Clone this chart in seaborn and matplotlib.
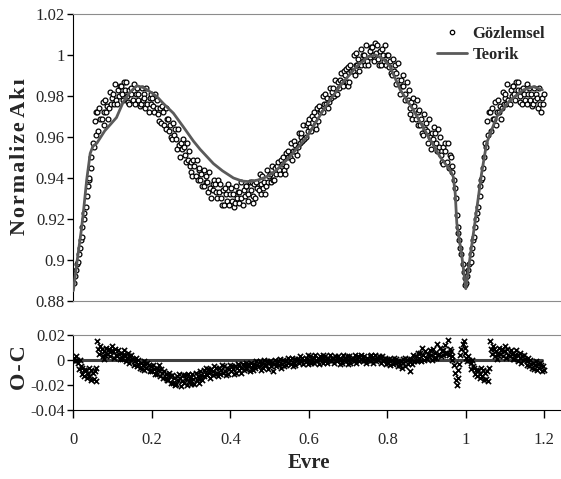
import numpy as np
import pandas as pd
import matplotlib
matplotlib.use('Agg')
import matplotlib.pyplot as plt
import seaborn as sns
from matplotlib.ticker import FuncFormatter
from matplotlib.lines import Line2D

# theoretical light curve (phase, normalized flux)
model_phase = [0.000, 0.010, 0.020, 0.026, 0.034, 0.043, 0.050, 0.060, 0.070, 0.080,
               0.094, 0.110, 0.127, 0.145, 0.162, 0.180, 0.200, 0.213, 0.229, 0.255,
               0.280, 0.306, 0.323, 0.357, 0.380, 0.408, 0.430, 0.450, 0.470, 0.493,
               0.518, 0.552, 0.595, 0.637, 0.680, 0.720, 0.750, 0.770, 0.790, 0.807,
               0.833, 0.866, 0.900, 0.934, 0.960, 0.968, 0.973, 0.977, 0.990, 1.000,
               1.011, 1.023, 1.040, 1.053, 1.079, 1.113, 1.147, 1.172, 1.195]
model_flux = [0.885, 0.900, 0.914, 0.924, 0.939, 0.952, 0.9555, 0.957, 0.960, 0.963,
              0.966, 0.9695, 0.977, 0.982, 0.985, 0.984, 0.9815, 0.9797, 0.9764, 0.9716,
              0.965, 0.958, 0.954, 0.947, 0.9435, 0.940, 0.9385, 0.9382, 0.939, 0.9406,
              0.9439, 0.9504, 0.960, 0.9732, 0.985, 0.994, 0.999, 1.000, 0.998, 0.9943,
              0.983, 0.9732, 0.9618, 0.9504, 0.9439, 0.9406, 0.9325, 0.918, 0.9016, 0.886,
              0.9016, 0.918, 0.942, 0.957, 0.970, 0.978, 0.983, 0.9845, 0.983]

# observed phases (0-1)
obs_phase = [
    0.001, 0.004, 0.006, 0.009, 0.012, 0.014, 0.017, 0.019,
    0.021, 0.023, 0.026, 0.028, 0.032, 0.035, 0.037, 0.039,
    0.041, 0.044, 0.046, 0.049, 0.052, 0.054, 0.057, 0.059,
    0.061, 0.063, 0.066, 0.068, 0.072, 0.075, 0.077, 0.079,
    0.081, 0.084, 0.086, 0.089, 0.092, 0.094, 0.097, 0.099,
    0.101, 0.103, 0.106, 0.108, 0.112, 0.115, 0.117, 0.119,
    0.121, 0.124, 0.126, 0.129, 0.132, 0.134, 0.137, 0.139,
    0.141, 0.143, 0.146, 0.148, 0.152, 0.155, 0.157, 0.159,
    0.161, 0.164, 0.166, 0.169, 0.172, 0.174, 0.177, 0.179,
    0.181, 0.183, 0.186, 0.188, 0.192, 0.195, 0.197, 0.199,
    0.201, 0.204, 0.206, 0.209, 0.212, 0.214, 0.217, 0.219,
    0.221, 0.223, 0.226, 0.228, 0.232, 0.235, 0.237, 0.239,
    0.241, 0.244, 0.246, 0.249, 0.252, 0.254, 0.257, 0.259,
    0.261, 0.263, 0.266, 0.268, 0.272, 0.275, 0.277, 0.279,
    0.281, 0.284, 0.286, 0.289, 0.292, 0.294, 0.297, 0.299,
    0.301, 0.303, 0.306, 0.308, 0.312, 0.315, 0.317, 0.319,
    0.321, 0.324, 0.326, 0.329, 0.332, 0.334, 0.337, 0.339,
    0.341, 0.343, 0.346, 0.348, 0.352, 0.355, 0.357, 0.359,
    0.361, 0.364, 0.366, 0.369, 0.372, 0.374, 0.377, 0.379,
    0.381, 0.383, 0.386, 0.388, 0.392, 0.395, 0.397, 0.399,
    0.401, 0.404, 0.406, 0.409, 0.412, 0.414, 0.417, 0.419,
    0.421, 0.423, 0.426, 0.428, 0.432, 0.435, 0.437, 0.439,
    0.441, 0.444, 0.446, 0.449, 0.452, 0.454, 0.457, 0.459,
    0.461, 0.463, 0.466, 0.468, 0.472, 0.475, 0.477, 0.479,
    0.481, 0.484, 0.486, 0.489, 0.492, 0.494, 0.497, 0.499,
    0.501, 0.503, 0.506, 0.508, 0.512, 0.515, 0.517, 0.519,
    0.521, 0.524, 0.526, 0.529, 0.532, 0.534, 0.537, 0.539,
    0.541, 0.543, 0.546, 0.548, 0.552, 0.555, 0.557, 0.559,
    0.561, 0.564, 0.566, 0.569, 0.572, 0.574, 0.577, 0.579,
    0.581, 0.583, 0.586, 0.588, 0.592, 0.595, 0.597, 0.599,
    0.601, 0.604, 0.606, 0.609, 0.612, 0.614, 0.617, 0.619,
    0.621, 0.623, 0.626, 0.628, 0.632, 0.635, 0.637, 0.639,
    0.641, 0.644, 0.646, 0.649, 0.652, 0.654, 0.657, 0.659,
    0.661, 0.663, 0.666, 0.668, 0.672, 0.675, 0.677, 0.679,
    0.681, 0.684, 0.686, 0.689, 0.692, 0.694, 0.697, 0.699,
    0.701, 0.703, 0.706, 0.708, 0.712, 0.715, 0.717, 0.719,
    0.721, 0.724, 0.726, 0.729, 0.732, 0.734, 0.737, 0.739,
    0.741, 0.743, 0.746, 0.748, 0.752, 0.755, 0.757, 0.759,
    0.761, 0.764, 0.766, 0.769, 0.772, 0.774, 0.777, 0.779,
    0.781, 0.783, 0.786, 0.788, 0.792, 0.795, 0.797, 0.799,
    0.801, 0.804, 0.806, 0.809, 0.812, 0.814, 0.817, 0.819,
    0.821, 0.823, 0.826, 0.828, 0.832, 0.835, 0.837, 0.839,
    0.841, 0.844, 0.846, 0.849, 0.852, 0.854, 0.857, 0.859,
    0.861, 0.863, 0.866, 0.868, 0.872, 0.875, 0.877, 0.879,
    0.881, 0.884, 0.886, 0.889, 0.892, 0.894, 0.897, 0.899,
    0.901, 0.903, 0.906, 0.908, 0.912, 0.915, 0.917, 0.919,
    0.921, 0.924, 0.926, 0.929, 0.932, 0.934, 0.937, 0.939,
    0.941, 0.943, 0.946, 0.948, 0.952, 0.955, 0.957, 0.959,
    0.961, 0.964, 0.966, 0.969, 0.972, 0.974, 0.977, 0.979,
    0.981, 0.983, 0.986, 0.988, 0.992, 0.995, 0.997, 0.999]

obs_flux = [
    0.889, 0.892, 0.895, 0.898, 0.899, 0.903, 0.906, 0.910,
    0.911, 0.916, 0.920, 0.923, 0.926, 0.931, 0.936, 0.939,
    0.940, 0.945, 0.950, 0.957, 0.955, 0.968, 0.961, 0.972,
    0.972, 0.963, 0.974, 0.969, 0.969, 0.977, 0.966, 0.972,
    0.978, 0.972, 0.975, 0.969, 0.974, 0.982, 0.976, 0.979,
    0.981, 0.976, 0.986, 0.978, 0.976, 0.983, 0.980, 0.985,
    0.985, 0.981, 0.978, 0.987, 0.983, 0.987, 0.980, 0.977,
    0.983, 0.976, 0.984, 0.981, 0.978, 0.986, 0.976, 0.981,
    0.984, 0.978, 0.981, 0.975, 0.976, 0.984, 0.978, 0.981,
    0.979, 0.974, 0.984, 0.976, 0.972, 0.979, 0.976, 0.981,
    0.979, 0.975, 0.972, 0.981, 0.974, 0.978, 0.971, 0.968,
    0.974, 0.967, 0.975, 0.972, 0.966, 0.974, 0.964, 0.969,
    0.969, 0.963, 0.966, 0.960, 0.959, 0.967, 0.961, 0.964,
    0.959, 0.954, 0.964, 0.956, 0.950, 0.957, 0.954, 0.959,
    0.955, 0.951, 0.948, 0.957, 0.949, 0.953, 0.946, 0.943,
    0.948, 0.941, 0.949, 0.946, 0.941, 0.949, 0.939, 0.944,
    0.945, 0.939, 0.942, 0.936, 0.936, 0.944, 0.938, 0.941,
    0.938, 0.933, 0.943, 0.935, 0.930, 0.937, 0.934, 0.939,
    0.937, 0.933, 0.930, 0.939, 0.933, 0.937, 0.930, 0.927,
    0.934, 0.927, 0.935, 0.932, 0.929, 0.937, 0.927, 0.932,
    0.935, 0.929, 0.932, 0.926, 0.928, 0.936, 0.930, 0.933,
    0.933, 0.928, 0.938, 0.930, 0.927, 0.934, 0.931, 0.936,
    0.936, 0.932, 0.929, 0.938, 0.934, 0.938, 0.931, 0.928,
    0.937, 0.930, 0.938, 0.935, 0.934, 0.942, 0.932, 0.937,
    0.941, 0.935, 0.938, 0.932, 0.936, 0.944, 0.938, 0.941,
    0.942, 0.938, 0.946, 0.939, 0.939, 0.945, 0.942, 0.946,
    0.948, 0.944, 0.942, 0.949, 0.947, 0.950, 0.944, 0.942,
    0.952, 0.946, 0.953, 0.950, 0.950, 0.957, 0.949, 0.953,
    0.958, 0.953, 0.956, 0.951, 0.955, 0.962, 0.957, 0.960,
    0.962, 0.958, 0.966, 0.959, 0.960, 0.966, 0.963, 0.967,
    0.969, 0.965, 0.963, 0.970, 0.969, 0.972, 0.966, 0.964,
    0.974, 0.968, 0.975, 0.972, 0.973, 0.980, 0.972, 0.976,
    0.981, 0.976, 0.979, 0.974, 0.977, 0.984, 0.979, 0.982,
    0.984, 0.980, 0.988, 0.981, 0.981, 0.987, 0.984, 0.988,
    0.991, 0.987, 0.985, 0.992, 0.990, 0.993, 0.987, 0.985,
    0.994, 0.987, 0.995, 0.992, 0.992, 1.000, 0.990, 0.995,
    1.001, 0.995, 0.998, 0.992, 0.995, 1.003, 0.997, 1.000,
    1.000, 0.995, 1.005, 0.997, 0.995, 1.002, 0.999, 1.004,
    1.004, 1.000, 0.997, 1.006, 1.001, 1.005, 0.998, 0.995,
    1.002, 0.995, 1.003, 1.000, 0.997, 1.005, 0.995, 1.000,
    1.000, 0.994, 0.997, 0.991, 0.990, 0.998, 0.992, 0.995,
    0.991, 0.986, 0.996, 0.988, 0.981, 0.988, 0.985, 0.990,
    0.985, 0.981, 0.978, 0.987, 0.978, 0.983, 0.974, 0.971,
    0.977, 0.969, 0.979, 0.975, 0.969, 0.978, 0.966, 0.972,
    0.973, 0.966, 0.969, 0.962, 0.961, 0.971, 0.964, 0.967,
    0.963, 0.957, 0.969, 0.960, 0.954, 0.962, 0.959, 0.965,
    0.962, 0.957, 0.953, 0.964, 0.955, 0.960, 0.951, 0.948,
    0.955, 0.947, 0.957, 0.953, 0.948, 0.957, 0.945, 0.951,
    0.950, 0.946, 0.943, 0.939, 0.935, 0.930, 0.922, 0.916,
    0.913, 0.910, 0.906, 0.903, 0.898, 0.894, 0.891, 0.888]

# O-C residuals at the same phases
obs_oc = [
    0.002, -0.001, 0.003, 0.000, -0.002, -0.007, 0.000, -0.005,
    -0.006, -0.011, -0.008, -0.013, -0.008, -0.014, -0.011, -0.006,
    -0.013, -0.008, -0.016, -0.010, -0.015, -0.009, -0.017, -0.006,
    0.015, 0.009, 0.005, 0.011, 0.009, 0.003, 0.007, 0.001,
    0.004, 0.010, 0.005, 0.008, 0.009, 0.003, 0.007, 0.011,
    0.007, 0.002, 0.009, 0.004, 0.003, 0.008, 0.005, 0.001,
    0.006, 0.001, 0.004, 0.008, 0.004, -0.001, 0.002, 0.006,
    -0.002, 0.003, 0.000, 0.004, 0.001, -0.004, -0.001, 0.002,
    -0.005, 0.000, -0.003, -0.006, -0.002, -0.007, -0.004, -0.001,
    -0.008, -0.003, -0.006, -0.002, -0.004, -0.009, -0.005, -0.008,
    -0.009, -0.004, -0.007, -0.011, -0.006, -0.011, -0.008, -0.004,
    -0.013, -0.007, -0.010, -0.014, -0.009, -0.014, -0.011, -0.016,
    -0.016, -0.010, -0.013, -0.018, -0.012, -0.018, -0.014, -0.020,
    -0.019, -0.013, -0.016, -0.011, -0.014, -0.021, -0.017, -0.012,
    -0.018, -0.012, -0.015, -0.020, -0.011, -0.017, -0.014, -0.019,
    -0.017, -0.011, -0.015, -0.019, -0.010, -0.016, -0.013, -0.018,
    -0.015, -0.009, -0.012, -0.016, -0.008, -0.013, -0.011, -0.006,
    -0.012, -0.007, -0.010, -0.014, -0.007, -0.012, -0.009, -0.005,
    -0.011, -0.006, -0.010, -0.013, -0.006, -0.011, -0.008, -0.004,
    -0.010, -0.005, -0.009, -0.012, -0.006, -0.011, -0.007, -0.004,
    -0.009, -0.005, -0.007, -0.011, -0.005, -0.010, -0.006, -0.003,
    -0.008, -0.004, -0.006, -0.010, -0.003, -0.008, -0.005, -0.002,
    -0.007, -0.003, -0.005, -0.009, -0.002, -0.006, -0.004, -0.008,
    -0.003, -0.006, -0.001, -0.004, -0.005, -0.001, -0.008, -0.003,
    -0.002, -0.006, 0.000, -0.004, -0.004, -0.001, -0.007, -0.002,
    -0.001, -0.005, -0.002, -0.009, -0.003, 0.000, -0.005, -0.002,
    -0.001, -0.004, 0.001, -0.006, -0.003, 0.000, -0.005, -0.001,
    -0.001, -0.004, 0.002, -0.002, 0.000, -0.003, 0.002, -0.005,
    -0.002, 0.001, -0.004, 0.000, 0.001, -0.002, 0.003, -0.001,
    -0.001, 0.002, -0.003, 0.000, 0.002, -0.001, 0.004, -0.003,
    0.000, 0.003, -0.002, 0.001, 0.002, -0.002, 0.004, 0.000,
    -0.001, 0.002, -0.003, 0.003, 0.001, -0.002, 0.004, 0.000,
    0.003, 0.000, -0.002, 0.002, 0.000, 0.004, -0.001, 0.002,
    0.002, -0.002, 0.003, 0.000, -0.001, 0.003, 0.001, -0.003,
    0.001, -0.002, 0.004, 0.000, 0.002, -0.001, 0.003, -0.003,
    0.000, 0.003, -0.002, 0.001, 0.002, -0.001, 0.004, 0.000,
    -0.002, 0.001, 0.003, -0.001, 0.001, 0.004, -0.001, 0.002,
    0.003, 0.000, -0.002, 0.002, 0.000, 0.003, -0.001, 0.004,
    0.002, -0.002, 0.001, 0.004, -0.001, 0.002, 0.000, 0.003,
    0.002, -0.002, 0.003, 0.000, 0.000, 0.002, -0.003, 0.001,
    -0.002, 0.001, -0.004, 0.000, 0.000, -0.003, 0.002, -0.001,
    -0.002, 0.001, -0.005, -0.001, -0.004, -0.001, -0.006, 0.001,
    -0.002, 0.002, -0.005, 0.000, -0.003, 0.001, -0.009, -0.001,
    0.001, -0.003, 0.004, -0.001, 0.003, -0.001, 0.006, 0.000,
    0.002, 0.006, -0.001, 0.010, 0.004, 0.000, 0.007, 0.002,
    0.001, 0.005, 0.003, 0.008, 0.004, 0.000, 0.009, 0.002,
    0.006, 0.002, 0.013, 0.004, 0.005, 0.010, 0.003, 0.007,
    0.008, 0.004, 0.012, 0.006, 0.006, 0.016, 0.004, 0.009,
    0.007, 0.003, 0.000, -0.004, -0.010, -0.016, -0.020, -0.014,
    -0.008, -0.003, 0.004, 0.009, 0.013, 0.015, 0.010, 0.006]

# phase range 1.0-1.2 repeats the first 0.2 of the cycle
obs = pd.DataFrame({'phase': obs_phase, 'flux': obs_flux, 'oc': obs_oc})
extra = obs[obs['phase'] < 0.2].copy()
extra['phase'] = extra['phase'] + 1.0
obs = pd.concat([obs, extra], ignore_index=True)
model = pd.DataFrame({'phase': model_phase, 'flux': model_flux})

sns.set_style('ticks')
plt.rcParams['font.family'] = ['Liberation Serif', 'DejaVu Serif']
plt.rcParams['axes.unicode_minus'] = False

fig = plt.figure(figsize=(5.61, 4.79), dpi=100)
ax1 = fig.add_axes([0.1307, 0.3716, 0.8693, 0.5992])
ax2 = fig.add_axes([0.1307, 0.1440, 0.8693, 0.1566])

fmt = FuncFormatter(lambda v, p: '%g' % round(v, 3))

# top panel: light curve
sns.scatterplot(data=obs, x='phase', y='flux', ax=ax1, marker='o', s=12,
                facecolor='white', edgecolor='black', linewidth=0.9, zorder=2)
sns.lineplot(data=model, x='phase', y='flux', ax=ax1, sort=False, estimator=None,
             color='#5a5a5a', linewidth=2, zorder=3)
ax1.set_xlim(0, 1.2425)
ax1.set_ylim(0.88, 1.02)
ax1.set_yticks([0.88, 0.9, 0.92, 0.94, 0.96, 0.98, 1.0, 1.02])
ax1.yaxis.set_major_formatter(fmt)
ax1.set_xticks([])
ax1.set_xlabel('')
ax1.set_ylabel('')

# bottom panel: O-C
ax2.plot([0, 1.195], [0, 0], color='#404040', linewidth=2.2, zorder=1)
sns.scatterplot(data=obs, x='phase', y='oc', ax=ax2, marker='x', s=14,
                color='black', linewidth=1.2, zorder=2)
ax2.set_xlim(0, 1.2425)
ax2.set_ylim(-0.04, 0.02)
ax2.set_yticks([-0.04, -0.02, 0, 0.02])
ax2.yaxis.set_major_formatter(fmt)
ax2.set_xticks([0, 0.2, 0.4, 0.6, 0.8, 1.0, 1.2])
ax2.xaxis.set_major_formatter(fmt)
ax2.set_ylabel('')
ax2.set_xlabel('Evre', fontsize=15, fontweight='bold')
ax2.xaxis.set_label_coords((0.6 / 1.2425), -0.57)

for ax in (ax1, ax2):
    ax.spines['right'].set_visible(False)
    ax.spines['top'].set_color('#8c8c8c')
    ax.spines['left'].set_color('black')
    ax.tick_params(axis='both', labelsize=12, direction='out', length=4, width=1,
                   color='black', pad=2)
ax1.spines['bottom'].set_color('#8c8c8c')
ax2.spines['bottom'].set_color('black')
ax2.tick_params(axis='x', length=6, pad=10)

ylab = '\u200a'.join('Normalize') + ' ' + '\u200a'.join('Akı')
fig.text(0.036, 0.672, ylab, rotation=90, ha='center', va='center',
         fontsize=16, fontweight='bold')
fig.text(0.036, 0.232, '\u200a'.join('O-C'), rotation=90, ha='center', va='center',
         fontsize=16, fontweight='bold')

handles = [Line2D([], [], marker='o', linestyle='none', markersize=3.2,
                  markerfacecolor='white', markeredgecolor='black', markeredgewidth=0.9),
           Line2D([], [], color='#5a5a5a', linewidth=2)]
ax1.legend(handles, ['Gözlemsel', 'Teorik'], loc='upper right',
           bbox_to_anchor=(0.998, 1.01), frameon=False, handlelength=1.8,
           handletextpad=0.3, labelspacing=0.3, prop={'weight': 'bold', 'size': 12})

fig.savefig('out.png', dpi=100)
